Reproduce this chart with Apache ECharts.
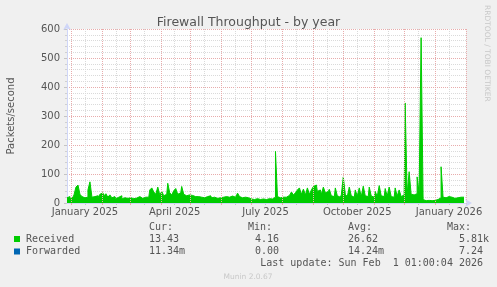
<!DOCTYPE html>
<html>
<head>
<meta charset="utf-8">
<script src="https://cdn.jsdelivr.net/npm/echarts@6/dist/echarts.min.js"></script>
<style>
html,body{margin:0;padding:0;background:#F0F0F0;}
#chart{width:497px;height:287px;}
</style>
</head>
<body>
<div id="chart"></div>
<script>
// ---- data (one value per 2 days, starting 2024-12-28) ----
const startDate = Date.UTC(2024, 11, 28);
const dayStep = 2;
const received = [
 18,22,15,20,28,55,62,30,22,18, 20,45,73,20,22,25,18,30,35,25,
 32,20,28,18,22,15,20,25,14,18, 16,20,18,15,20,17,22,18,16,20,
 25,20,45,52,38,30,55,28,40,25, 30,68,35,28,42,50,30,35,57,30,
 25,28,24,26,22,25,22,20,24,18, 22,20,25,18,20,16,22,18,20,17,
 22,20,18,24,20,26,34,22,18,20, 15,18,14,16,12,15,10,12,14,16,
 12,15,18,14,20,178,22,18,20,24, 20,26,30,38,28,35,45,52,30,48,
 28,52,30,45,57,62,40,45,30,55, 35,40,47,25,22,52,25,20,28,90,
 30,22,55,25,20,45,24,52,22,58, 25,22,55,24,20,40,22,60,25,22,
 50,24,55,22,20,52,24,45,22,28, 345,30,108,30,28,32,90,35,570,12,
 8,9,7,8,9,10,12,18,125,20, 18,22,18,20,16,22,18,20,17,20
];
const yTicks = [0, 100, 200, 300, 400, 500, 600];
const quarterLabels = ['January 2025', 'April 2025', 'July 2025', 'October 2025', 'January 2026'];
const quarterLabelDates = [Date.UTC(2025,0,15), Date.UTC(2025,3,15), Date.UTC(2025,6,15), Date.UTC(2025,9,15), Date.UTC(2026,0,15)];
const totalDays = 400;

const legendNames = ['Received', 'Forwarded'];
const legendColors = ['#00CC00', '#0066B3'];
const curVals = ['13.43', '11.34m'];
const minVals = ['4.16', '0.00'];
const avgVals = ['26.62', '14.24m'];
const maxVals = ['5.81k', '7.24'];
const lastUpdate = 'Last update: Sun Feb  1 01:00:04 2026';

// ---- derived ----
const DAY = 86400000;
const toDay = t => Math.round((t - startDate) / DAY);
const monthStarts = [];
const monthMids = [];
for (let m = 0; m < 14; m++) {
  const d0 = toDay(Date.UTC(2025, m, 1));
  const d15 = toDay(Date.UTC(2025, m, 15));
  if (d0 >= 0 && d0 <= totalDays) monthStarts.push(d0);
  if (d15 >= 0 && d15 <= totalDays) monthMids.push(d15);
}
const labelDays = quarterLabelDates.map(toDay);
const seriesData = received.map((v, i) => [i * dayStep, v]);

const FONT = 'DejaVu Sans';
const MONO = 'DejaVu Sans Mono';
const TXT = '#555';
const MGRID = '#e8acac';
const GRID = '#dadada';
const AXIS = '#CFD6F8';

const chart = echarts.init(document.getElementById('chart'), null, {renderer: 'canvas'});

const legendGraphics = [];
const rowY = [239, 251.5];
const headerY = 227.5;
[['Cur:', 149], ['Min:', 248], ['Avg:', 348], ['Max:', 447]].forEach(([t, x]) => {
  legendGraphics.push({type: 'text', x: x, y: headerY, style: {text: t, font: '10px ' + MONO, fill: TXT, verticalAlign: 'middle'}});
});
legendNames.forEach((n, r) => {
  legendGraphics.push({type: 'rect', shape: {x: 14, y: rowY[r] - 3, width: 6, height: 6}, style: {fill: legendColors[r]}});
  legendGraphics.push({type: 'text', x: 26, y: rowY[r], style: {text: n, font: '10px ' + MONO, fill: TXT, verticalAlign: 'middle'}});
  const cols = [[curVals[r], 185], [minVals[r], 285], [avgVals[r], 384], [maxVals[r], 489]];
  cols.forEach(([v, xr]) => {
    const s = /[a-zA-Z]$/.test(v) ? v : v + ' ';
    legendGraphics.push({type: 'text', x: xr, y: rowY[r], style: {text: s, font: '10px ' + MONO, fill: TXT, align: 'right', verticalAlign: 'middle'}});
  });
});
legendGraphics.push({type: 'text', x: 483, y: 263.5, style: {text: lastUpdate, font: '10px ' + MONO, fill: TXT, align: 'right', verticalAlign: 'middle'}});
legendGraphics.push({type: 'text', x: 248, y: 277, style: {text: 'Munin 2.0.67', font: '7.5px ' + FONT, fill: '#c8c8c8', align: 'center', verticalAlign: 'middle'}});
legendGraphics.push({type: 'text', x: 487, y: 5, rotation: -Math.PI / 2, style: {text: 'RRDTOOL / TOBI OETIKER', font: '7.5px ' + FONT, fill: '#c8c8c8', align: 'left', verticalAlign: 'middle'}});

const option = {
  backgroundColor: '#F0F0F0',
  animation: false,
  title: {
    text: 'Firewall Throughput - by year',
    left: 'center', top: 11,
    textStyle: {fontFamily: FONT, fontSize: 12.5, fontWeight: 'normal', color: TXT}
  },
  grid: {left: 67, right: 31, top: 29, bottom: 84, show: true, backgroundColor: '#FFFFFF', borderWidth: 0,
    containLabel: false, outerBoundsMode: 'none'},
  xAxis: [{
    type: 'value', min: 0, max: totalDays,
    axisLine: {show: true, lineStyle: {color: AXIS, width: 1}, symbol: ['none', 'arrow'], symbolSize: [6, 7], symbolOffset: [0, 6]},
    axisTick: {show: true, customValues: monthStarts, length: 2, lineStyle: {color: MGRID}},
    axisLabel: {show: true, customValues: labelDays, margin: 4, fontFamily: FONT, fontSize: 10, color: TXT,
      formatter: v => quarterLabels[labelDays.indexOf(Math.round(v))] || ''},
    splitLine: {show: true, lineStyle: {color: MGRID, type: [1, 1], width: 1}},
    z: 3
  }, {
    type: 'value', min: 0, max: totalDays, position: 'bottom',
    axisLine: {show: false},
    axisTick: {show: true, customValues: monthMids, length: 2, lineStyle: {color: '#c4c4c4'}},
    axisLabel: {show: false},
    splitLine: {show: true, lineStyle: {color: GRID, type: [1, 1], width: 1}}
  }],
  yAxis: {
    type: 'value', min: 0, max: 600, interval: 100,
    name: 'Packets/second', nameLocation: 'middle', nameGap: 51, nameRotate: 90,
    nameTextStyle: {fontFamily: FONT, fontSize: 10, color: TXT},
    axisLine: {show: true, lineStyle: {color: AXIS, width: 1}, symbol: ['none', 'arrow'], symbolSize: [6, 7], symbolOffset: [0, 6]},
    axisTick: {show: true, length: 3, lineStyle: {color: '#c4c4c4'}},
    minorTick: {show: true, splitNumber: 5, length: 2, lineStyle: {color: '#d0d0d0'}},
    axisLabel: {margin: 7, fontFamily: FONT, fontSize: 10, color: TXT,
      formatter: v => yTicks.includes(v) ? String(v) : ''},
    splitLine: {show: true, lineStyle: {color: MGRID, type: [1, 1], width: 1}},
    minorSplitLine: {show: true, lineStyle: {color: GRID, type: [1, 1], width: 1}}
  },
  series: [{
    name: 'Received', type: 'line', xAxisIndex: 0, data: seriesData,
    step: 'middle', symbol: 'none', silent: true,
    lineStyle: {color: '#00CC00', width: 1},
    areaStyle: {color: '#00CC00', opacity: 1},
    z: 2
  }],
  graphic: legendGraphics
};
chart.setOption(option);
</script>
</body>
</html>
